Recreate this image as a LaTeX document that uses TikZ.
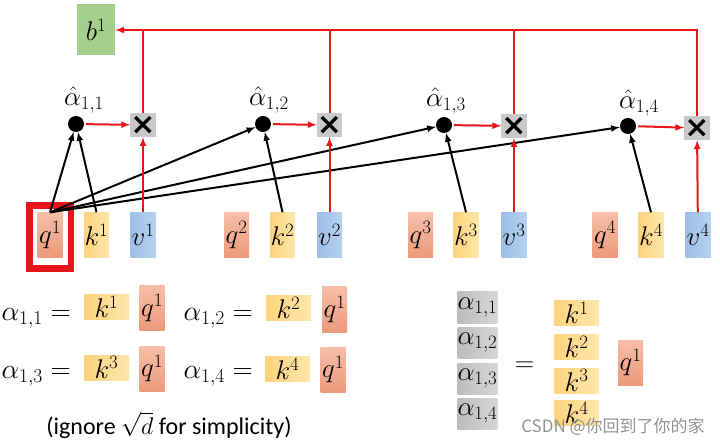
\RequirePackage{fix-cm}
\documentclass[tikz,border=0pt]{standalone}
\usepackage{fontspec}
\usepackage{amsmath}
\usetikzlibrary{arrows, positioning}
\newfontfamily\notefont{Carlito}
\newfontfamily\symbfont{DejaVu Sans}
\newfontfamily\cjkfont{Noto Sans CJK SC}
\definecolor{qtop}{HTML}{F6BEA8}
\definecolor{qbot}{HTML}{EC9A7C}
\definecolor{kdark}{HTML}{FFD27C}
\definecolor{klight}{HTML}{FFE6AC}
\definecolor{vdark}{HTML}{9CBFE6}
\definecolor{vlight}{HTML}{B6D1EF}
\definecolor{adark}{HTML}{BDBDBD}
\definecolor{alight}{HTML}{D6D6D6}
\definecolor{bgreen}{HTML}{A6CF8C}
\definecolor{mulgray}{HTML}{C9C9C9}
\definecolor{redline}{HTML}{E8141B}

\begin{document}
\begin{tikzpicture}[x=1pt, y=-1pt, font=\fontsize{27}{31}\selectfont,
	tile/.style={inner sep=0pt, draw=none},
	qbox/.style={tile, minimum width=25pt, minimum height=45pt, top color=qtop, bottom color=qbot},
	kbox/.style={tile, minimum width=25pt, minimum height=45pt, left color=kdark, right color=klight},
	kwide/.style={kbox, minimum width=45pt, minimum height=25pt},
	vbox/.style={tile, minimum width=25pt, minimum height=45pt, left color=vdark, right color=vlight},
	abox/.style={tile, minimum width=39pt, minimum height=31pt, left color=adark, right color=alight, font=\fontsize{27}{30}\selectfont},
	bbox/.style={tile, minimum width=38pt, minimum height=51pt, fill=bgreen},
	mul/.style={tile, minimum width=25pt, minimum height=24pt, fill=mulgray, font=\symbfont\bfseries\fontsize{30}{30}\selectfont},
	dot/.style={circle, fill=black, minimum size=16pt, inner sep=0pt},
	hat/.style={inner sep=0pt, font=\fontsize{27}{30}\selectfont},
	eqn/.style={anchor=base east, inner sep=0pt, font=\fontsize{28}{31}\selectfont},
	score/.style={-latex, line width=2pt, black},
	flow/.style={-latex, line width=2pt, redline}]
	\useasboundingbox (0,0) rectangle (720,446);
	% output
	\node[bbox] (b1) at (96,30) {$b^1$};
	% inputs
	\node[qbox] (q1) at (50,235) {$q^1$};
	\node[kbox] (k1) at (96.5,235) {$k^1$};
	\node[vbox] (v1) at (143,235) {$v^1$};
	\node[qbox] (q2) at (236.5,235) {$q^2$};
	\node[kbox] (k2) at (282.5,235) {$k^2$};
	\node[vbox] (v2) at (329.5,235) {$v^2$};
	\node[qbox] (q3) at (420.5,235) {$q^3$};
	\node[kbox] (k3) at (466,235) {$k^3$};
	\node[vbox] (v3) at (514,235) {$v^3$};
	\node[qbox] (q4) at (605,235) {$q^4$};
	\node[kbox] (k4) at (651,235) {$k^4$};
	\node[vbox] (v4) at (698,235) {$v^4$};
	\node[draw=redline, line width=6.5pt, minimum width=41.5pt, minimum height=63pt] (focus) at (50.25,237) {};
	% scores and products
	\node[dot] (d1) at (76,124) {};
	\node[dot] (d2) at (263,124) {};
	\node[dot] (d3) at (444,125) {};
	\node[dot] (d4) at (628,126) {};
	\node[hat] (h1) at (84,100) {$\hat{\alpha}_{1,1}$};
	\node[hat] (h2) at (269,100) {$\hat{\alpha}_{1,2}$};
	\node[hat] (h3) at (446,101) {$\hat{\alpha}_{1,3}$};
	\node[hat] (h4) at (639,103) {$\hat{\alpha}_{1,4}$};
	\node[mul] (m1) at (143,125) {×};
	\node[mul] (m2) at (329.5,125) {×};
	\node[mul] (m3) at (514,126) {×};
	\node[mul] (m4) at (697,128) {×};
	\draw[score] (q1.north) -- (d1);
	\draw[score] (k1.north) -- (d1);
	\draw[score] (q1.north) -- (d2);
	\draw[score] (q1.north) -- (d3);
	\draw[score] (q1.north) -- (d4);
	\draw[score] (k2.north) -- (d2);
	\draw[score] (k3.north) -- (d3);
	\draw[score] (k4.north) -- (d4);
	\draw[flow, shorten <=2pt] (d1) -- (m1);
	\draw[flow, shorten <=2pt] (d2) -- (m2);
	\draw[flow, shorten <=2pt] (d3) -- (m3);
	\draw[flow, shorten <=2pt] (d4) -- (m4);
	\draw[flow] (v1) -- (m1);
	\draw[flow] (v2) -- (m2);
	\draw[flow] (v3) -- (m3);
	\draw[flow] (v4) -- (m4);
	\draw[flow] (m4.north) |- (b1.east);
	\draw[redline, line width=2pt] (m1.north) -- (m1.north |- b1.east);
	\draw[redline, line width=2pt] (m2.north) -- (m2.north |- b1.east);
	\draw[redline, line width=2pt] (m3.north) -- (m3.north |- b1.east);
	% dot products
	\node[eqn] (e1) at (71,320) {$\alpha_{1,1} =$};
	\node[kwide] (ek1) at (106.5,307) {$k^1$};
	\node[qbox] (eq1) at (152,308) {$q^1$};
	\node[eqn] (e2) at (253,320) {$\alpha_{1,2} =$};
	\node[kwide] (ek2) at (288.5,308) {$k^2$};
	\node[qbox] (eq2) at (334.5,309.5) {$q^1$};
	\node[eqn] (e3) at (71,378) {$\alpha_{1,3} =$};
	\node[kwide] (ek3) at (106.5,367.5) {$k^3$};
	\node[qbox] (eq3) at (152,368.5) {$q^1$};
	\node[eqn] (e4) at (253,378) {$\alpha_{1,4} =$};
	\node[kwide] (ek4) at (287.5,369) {$k^4$};
	\node[qbox] (eq4) at (333,369.5) {$q^1$};
	\node[font=\notefont\fontsize{24}{28}\selectfont] (note) at (169,425) {(ignore $\sqrt{d}$ for simplicity)};
	% matrix form
	\node[abox] (s1) at (477.5,307.5) {$\alpha_{1,1}$};
	\node[abox] (s2) at (477.5,342.5) {$\alpha_{1,2}$};
	\node[abox] (s3) at (477.5,378.5) {$\alpha_{1,3}$};
	\node[abox] (s4) at (477.5,413.5) {$\alpha_{1,4}$};
	\node (eqs) at (524.5,367) {$=$};
	\node[kwide] (sk1) at (576.5,313) {$k^1$};
	\node[kwide] (sk2) at (576.5,347) {$k^2$};
	\node[kwide] (sk3) at (576.5,380.5) {$k^3$};
	\node[kwide] (sk4) at (576.5,413) {$k^4$};
	\node[qbox] (sq) at (630.5,362.5) {$q^1$};
	\node[font=\cjkfont\fontsize{17}{20}\selectfont, text=gray!85] (mark) at (613,427) {CSDN @你回到了你的家};
\end{tikzpicture}
\end{document}
